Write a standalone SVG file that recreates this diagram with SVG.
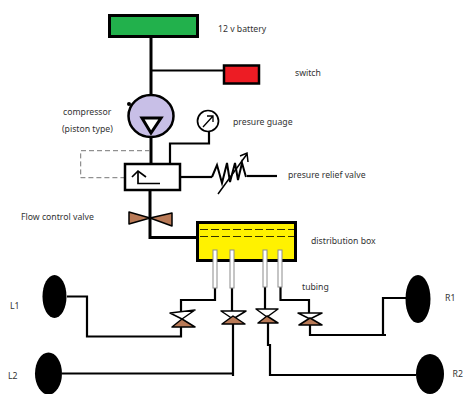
<svg xmlns="http://www.w3.org/2000/svg" width="464" height="394" viewBox="0 0 464 394">
<style>
text{font-family:"Noto Sans","Liberation Sans",sans-serif;font-size:8.7px;fill:#333}
.w{fill:none;stroke:#000;stroke-width:2.200;stroke-linejoin:miter}
.t{fill:none;stroke:#000;stroke-width:3}
.b{fill:#b97a57;stroke:#000;stroke-width:1.500;stroke-linejoin:round}
.o{fill:#fff;stroke:#000;stroke-width:1.500;stroke-linejoin:round}
.wh{fill:#000}
.tube{fill:#fff;stroke:#8c8c8c;stroke-width:1}
</style>
<rect width="464" height="394" fill="#fff"/>
<g id="connectors">
<path class="t" d="M151 36V95"/>
<path class="w" d="M151 70.500H224"/>
<path class="t" d="M151 133V163"/>
<path class="w" d="M209 131V143.500H170V163"/>
<path d="M150 150.700H80.700V177.700H124" fill="none" stroke="#777" stroke-width="1" stroke-dasharray="5 3"/>
<path class="w" d="M181 177H212"/>
<path class="w" d="M247 176H277"/>
<path class="t" d="M150 191V237.500H197"/>
<path class="w" d="M215 288V300H181V313"/>
<path class="w" d="M232 288V311"/>
<path class="w" d="M265 287V309"/>
<path class="w" d="M280.500 287V300H309V313"/>
<path class="w" d="M181 327V336.500H87V296.500H67"/>
<path class="w" d="M233 324V376M233 373.500H62"/>
<path class="w" d="M268 323V345H270V375H416"/>
<path class="w" d="M310 325V335H383V298H406M383 335H386"/>
</g>
<g id="battery"><rect x="109.500" y="15.500" width="88" height="21" fill="#22b14c" stroke="#000" stroke-width="3"/><text x="218" y="32">12 v battery</text></g>
<g id="switch"><rect x="224" y="65.500" width="35" height="18" fill="#ed1c24" stroke="#000" stroke-width="2.500"/><text x="295" y="76">switch</text></g>
<g id="compressor">
<circle cx="129" cy="104" r="2" fill="#000"/>
<ellipse cx="151" cy="116" rx="22.500" ry="21" fill="#c8bfe7" stroke="#000" stroke-width="2.500"/>
<path d="M142 118H161L151 133Z" fill="#fff" stroke="#000" stroke-width="3"/>
<text x="63" y="115">compressor</text><text x="62" y="132">(piston type)</text>
</g>
<g id="gauge">
<circle cx="208" cy="121" r="10.500" fill="#fff" stroke="#000" stroke-width="1.700"/>
<path d="M203 127L213 116M207 116H213V122" fill="none" stroke="#000" stroke-width="1.300"/>
<text x="233" y="125">presure guage</text>
</g>
<g id="control-valve">
<rect x="125" y="164" width="55" height="26" fill="#fff" stroke="#000" stroke-width="2.500"/>
<path d="M138 171V183.500H160" fill="none" stroke="#000" stroke-width="1.700"/>
<path d="M132 177L138 171L146 177" fill="none" stroke="#000" stroke-width="1.700"/>
</g>
<g id="relief-valve">
<path d="M212 177L217 165L222 183L227 163L230 182L235 163L238 180L242 163L246 177" fill="none" stroke="#000" stroke-width="2"/>
<path d="M218 194L247 154M240 156L247 153L248 162" fill="none" stroke="#000" stroke-width="1.500"/>
<text x="288" y="178">presure relief valve</text>
</g>
<g id="flow-valve">
<path class="b" d="M129 212V224L150 218Z"/><path class="b" d="M172 213V226L150 218Z"/>
<text x="21" y="220">Flow control valve</text>
</g>
<g id="distribution-box">
<rect x="197.500" y="222.500" width="98" height="38" fill="#fff200" stroke="#000" stroke-width="3"/>
<path d="M200 229.500H295M200 236.500H295" stroke="#000" stroke-width="0.800" stroke-dasharray="8 3" fill="none"/>
<rect class="tube" x="213" y="250" width="4" height="38"/>
<rect class="tube" x="230" y="250" width="4" height="38"/>
<rect class="tube" x="263" y="250" width="4" height="37"/>
<rect class="tube" x="278" y="250" width="4" height="37"/>
<text x="311" y="244">distribution box</text>
<text x="302" y="290">tubing</text>
</g>
<g id="valve-1"><path class="o" d="M170 313L195 310L182 319Z"/><path class="b" d="M172 327H195L182 319Z"/></g>
<g id="valve-2"><path class="o" d="M221 311H246L233 319Z"/><path class="b" d="M222 324H245L233 316Z"/></g>
<g id="valve-3"><path class="o" d="M256 309H278L267 317Z"/><path class="b" d="M258 323H278L267 316Z"/></g>
<g id="valve-4"><path class="o" d="M298 313H322L310 319Z"/><path class="b" d="M299 325H322L310 318Z"/></g>
<g id="wheel-l1"><ellipse class="wh" cx="54.500" cy="296.500" rx="12" ry="21.500"/><text x="10" y="309">L1</text></g>
<g id="wheel-l2"><ellipse class="wh" cx="48.500" cy="373.500" rx="13.500" ry="21"/><text x="8" y="379">L2</text></g>
<g id="wheel-r1"><ellipse class="wh" cx="418" cy="299" rx="12.500" ry="24"/><text x="445" y="301">R1</text></g>
<g id="wheel-r2"><ellipse class="wh" cx="430" cy="374" rx="14" ry="20"/><text x="452.500" y="377">R2</text></g>
</svg>
